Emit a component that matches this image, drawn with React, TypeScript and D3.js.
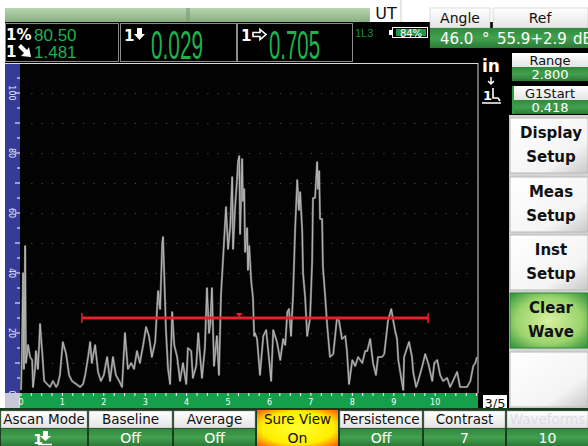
import * as d3 from 'd3';

// A-scan echo envelope: [position in screen divisions, amplitude %FSH]
const WAVEFORM: [number, number][] = [
  [0, 1], [0.02, 12], [0.05, 40], [0.07, 8], [0.1, 49], [0.12, 10], [0.17, 16], [0.22, 12],
  [0.27, 11], [0.29, 2], [0.34, 8], [0.36, 14], [0.41, 8], [0.46, 23], [0.51, 14], [0.56, 4],
  [0.63, 3], [0.7, 2], [0.77, 4], [0.85, 2], [0.89, 3], [0.94, 6], [1.01, 17], [1.09, 13],
  [1.16, 6], [1.23, 4], [1.33, 3], [1.43, 2], [1.5, 3], [1.55, 6], [1.62, 12], [1.67, 17],
  [1.71, 10], [1.79, 16], [1.86, 7], [1.93, 4], [2.0, 6], [2.08, 12], [2.15, 4], [2.22, 12],
  [2.29, 6], [2.37, 4], [2.44, 2], [2.51, 20], [2.58, 8], [2.66, 10], [2.73, 8], [2.8, 14],
  [2.87, 10], [2.95, 16], [3.02, 22], [3.09, 19], [3.16, 12], [3.24, 17], [3.31, 34], [3.36, 28],
  [3.41, 50], [3.43, 52], [3.45, 43], [3.5, 21], [3.55, 8], [3.6, 3], [3.65, 27], [3.7, 16],
  [3.77, 12], [3.84, 4], [3.91, 10], [3.99, 3], [4.03, 15], [4.11, 14], [4.15, 5], [4.23, 9],
  [4.28, 20], [4.32, 13], [4.37, 5], [4.44, 15], [4.49, 35], [4.54, 20], [4.57, 23], [4.61, 35],
  [4.66, 9], [4.73, 19], [4.78, 6], [4.83, 33], [4.88, 45], [4.95, 62], [5.0, 48], [5.05, 55],
  [5.1, 72], [5.12, 48], [5.17, 62], [5.22, 72], [5.24, 77], [5.27, 79], [5.29, 53], [5.34, 78],
  [5.36, 64], [5.39, 68], [5.41, 47], [5.46, 55], [5.48, 41], [5.51, 49], [5.56, 37], [5.6, 32],
  [5.63, 19], [5.65, 20], [5.7, 18], [5.77, 6], [5.85, 19], [5.92, 21], [5.97, 14], [6.04, 4],
  [6.09, 21], [6.18, 17], [6.26, 11], [6.33, 18], [6.38, 16], [6.43, 27], [6.47, 28], [6.52, 19],
  [6.57, 33], [6.62, 55], [6.67, 71], [6.71, 61], [6.74, 67], [6.79, 54], [6.81, 40], [6.86, 32],
  [6.91, 19], [6.98, 25], [7.03, 44], [7.05, 65], [7.1, 65], [7.15, 77], [7.17, 68], [7.2, 74],
  [7.22, 58], [7.27, 58], [7.29, 42], [7.34, 33], [7.39, 23], [7.46, 12], [7.54, 13], [7.63, 25],
  [7.68, 24], [7.75, 18], [7.83, 19], [7.87, 14], [7.92, 3], [8.0, 11], [8.07, 9], [8.14, 12],
  [8.24, 10], [8.31, 14], [8.36, 14], [8.43, 18], [8.5, 10], [8.57, 6], [8.62, 12], [8.72, 12],
  [8.77, 13], [8.82, 19], [8.86, 24], [8.94, 28], [8.99, 24], [9.03, 21], [9.08, 18], [9.11, 11],
  [9.18, 5], [9.23, 1], [9.25, 12], [9.32, 15], [9.37, 17], [9.44, 12], [9.47, 7], [9.54, 2],
  [9.59, 4], [9.69, 9], [9.76, 13], [9.83, 10], [9.93, 4], [9.98, 10], [10.05, 11], [10.12, 6],
  [10.19, 4], [10.29, 5], [10.36, 2], [10.43, 4], [10.53, 7], [10.6, 2], [10.68, 2], [10.77, 2],
  [10.85, 4], [10.92, 9], [10.97, 10], [11.01, 12],
];

const X_LABELS = [0, 1, 2, 3, 4, 5, 6, 7, 8, 9, 10];
const Y_LABELS = [0, 20, 40, 60, 80, 100];

const GATE_START = 1.47;
const GATE_END = 9.83;
const GATE_LEVEL = 25;
const GATE_MARK = 5.27;

const SOFTKEYS = [['Display', 'Setup'], ['Meas', 'Setup'], ['Inst', 'Setup'], ['Clear', 'Wave'], ['', '']];
const BOTTOM_LABELS = ['Ascan Mode', 'Baseline', 'Average', 'Sure View', 'Persistence', 'Contrast', 'Waveforms'];
const BOTTOM_VALUES = ['1', 'Off', 'Off', 'On', 'Off', '7', '10'];

const SANS = '"DejaVu Sans", Verdana, sans-serif';
const ARIAL = '"Liberation Sans", Arial, sans-serif';
const GREEN = '#1fb24b';

export default function App() {
  const x = d3.scaleLinear().domain([0, 11.01]).range([21, 477]);
  const y = d3.scaleLinear().domain([0, 100]).range([393, 93]);
  const line = d3.line<[number, number]>().x((d) => x(d[0])).y((d) => y(d[1]));
  const xMinor = d3.range(0, 11.01, 0.25);
  const yMinor = d3.range(5, 110, 5);
  const gridY = d3.range(10, 110, 10);
  const bx = [1, 89, 174, 257, 340, 424, 507];
  const bw = [86, 83, 81, 81, 82, 81, 81];
  const keyTop = [118, 177, 235, 293, 352];

  return (
    <svg width={588} height={446} style={{ position: 'absolute', left: 0, top: 0 }} fontFamily={SANS}>
      <defs>
        <linearGradient id="topStrip" x1="0" y1="0" x2="0" y2="1">
          <stop offset="0" stopColor="#b9d6b2" />
          <stop offset="1" stopColor="#88ae80" />
        </linearGradient>
        <linearGradient id="head" x1="0" y1="0" x2="0" y2="1">
          <stop offset="0" stopColor="#ffffff" />
          <stop offset="1" stopColor="#e4e4e4" />
        </linearGradient>
        <linearGradient id="greenRow" x1="0" y1="0" x2="0" y2="1">
          <stop offset="0" stopColor="#2f8a3c" />
          <stop offset="0.5" stopColor="#43a04f" />
          <stop offset="1" stopColor="#2a7a36" />
        </linearGradient>
        <linearGradient id="key" x1="0" y1="0" x2="1" y2="1">
          <stop offset="0" stopColor="#ffffff" />
          <stop offset="0.7" stopColor="#f4f4f4" />
          <stop offset="1" stopColor="#c8c8c8" />
        </linearGradient>
        <radialGradient id="clear" cx="0.5" cy="0.5" r="0.7">
          <stop offset="0" stopColor="#d8f0a0" />
          <stop offset="0.6" stopColor="#9bd46c" />
          <stop offset="1" stopColor="#2f8f3a" />
        </radialGradient>
        <radialGradient id="sure" cx="0.5" cy="0.5" r="0.75">
          <stop offset="0" stopColor="#ffff30" />
          <stop offset="0.6" stopColor="#ffee00" />
          <stop offset="1" stopColor="#ff3a10" />
        </radialGradient>
      </defs>

      <rect width={588} height={446} fill="#ffffff" />
      <rect x={5} y={22} width={583} height={390} fill="#000000" />

      {/* top strip */}
      <rect x={5} y={8} width={365} height={14} fill="url(#topStrip)" />
      <rect x={186} y={8} width={4} height={14} fill="#7f9a79" opacity={0.6} />
      <rect x={370} y={0} width={60} height={22} fill="#ffffff" />
      <line x1={401} y1={0} x2={401} y2={22} stroke="#cfcfcf" />
      <text x={386} y={19} textAnchor="middle" fontSize={16} fill="#111">UT</text>

      {/* readout boxes */}
      <rect x={5.5} y={23.5} width={113} height={38} fill="#000" stroke="#8a8a8a" />
      <rect x={120.5} y={23.5} width={116} height={38} fill="#000" stroke="#8a8a8a" />
      <rect x={237.5} y={23.5} width={115} height={38} fill="#000" stroke="#8a8a8a" />
      <text x={6} y={40} fontSize={15} fontWeight="bold" fill="#fff">1%</text>
      <text x={34} y={41} fontSize={17} fontFamily={ARIAL} fill={GREEN}>80.50</text>
      <text x={6} y={57} fontSize={15} fontWeight="bold" fill="#fff">1</text>
      <path d="M18,47 L21,44 L27,50 L29,47 L31,57 L21,56 L24,53 Z" fill="#fff" />
      <text x={34} y={58} fontSize={17} fontFamily={ARIAL} fill={GREEN}>1.481</text>

      <text x={124} y={41} fontSize={15} fontWeight="bold" fill="#fff">1</text>
      <path d="M137,28 h5 v6 h3 l-5.5,6 l-5.5,-6 h3 z" fill="#fff" />
      <text x={151} y={59} fontSize={41} fontFamily={ARIAL} fill={GREEN} textLength={52} lengthAdjust="spacingAndGlyphs">0.029</text>

      <text x={241} y={41} fontSize={15} fontWeight="bold" fill="#fff">1</text>
      <path d="M253,32.5 h7 v-3 l6,5 l-6,5 v-3 h-7 z" fill="none" stroke="#fff" strokeWidth={1.6} />
      <text x={269} y={59} fontSize={41} fontFamily={ARIAL} fill={GREEN} textLength={51} lengthAdjust="spacingAndGlyphs">0.705</text>

      <text x={355} y={37} fontSize={11} fontFamily={ARIAL} fill="#1c8f3c">1L3</text>
      <rect x={389} y={30} width={3} height={5} fill="#fff" />
      <rect x={392.5} y={27.5} width={35} height={10} fill="#000" stroke="#fff" />
      <rect x={396} y={29} width={30} height={7} fill="#1e9a46" />
      <text x={411} y={36.5} textAnchor="middle" fontSize={10} fill="#fff">84%</text>

      {/* angle / ref */}
      <rect x={430} y={8} width={60} height={20} fill="url(#head)" stroke="#bbb" strokeWidth={0.5} />
      <rect x={493} y={8} width={95} height={20} fill="url(#head)" stroke="#bbb" strokeWidth={0.5} />
      <text x={460} y={23} textAnchor="middle" fontSize={14} fill="#111">Angle</text>
      <text x={540} y={23} textAnchor="middle" fontSize={14} fill="#111">Ref</text>
      <rect x={430} y={28} width={158} height={20} fill="url(#greenRow)" />
      <text x={440} y={44} fontSize={15} fill="#fff">46.0</text>
      <text x={482} y={44} fontSize={15} fill="#fff">°</text>
      <text x={497} y={44} fontSize={15} fill="#fff">55.9+2.9</text>
      <text x={573} y={44} fontSize={15} fill="#fff">dB</text>

      {/* units & probe icon */}
      <text x={482} y={72} fontSize={17} fontWeight="bold" fill="#fff">in</text>
      <path d="M491,77 v6 M488,81 l3,3 l3,-3" stroke="#fff" strokeWidth={1.5} fill="none" />
      <text x={483} y={100} fontSize={13} fontWeight="bold" fill="#fff">1</text>
      <path d="M493,88 v10 h5 l2,3 M482,103 h19" stroke="#fff" strokeWidth={1.6} fill="none" />

      {/* range / gate start */}
      <rect x={512} y={53} width={76} height={14} fill="url(#head)" />
      <text x={550} y={65} textAnchor="middle" fontSize={13} fill="#111">Range</text>
      <rect x={512} y={67} width={76} height={14} fill="url(#greenRow)" />
      <text x={550} y={79} textAnchor="middle" fontSize={13} fill="#fff">2.800</text>
      <rect x={512} y={86} width={76} height={14} fill="url(#head)" />
      <text x={550} y={98} textAnchor="middle" fontSize={13} fill="#111">G1Start</text>
      <rect x={512} y={100} width={76} height={14} fill="url(#greenRow)" />
      <rect x={512} y={86} width={2} height={28} fill="#2aa040" />
      <text x={550} y={112} textAnchor="middle" fontSize={13} fill="#fff">0.418</text>

      {/* softkeys */}
      <rect x={509} y={115} width={79} height={296} fill="#d4d4d4" />
      {SOFTKEYS.map((k, i) => (
        <g key={i}>
          <rect x={510} y={keyTop[i]} width={78} height={55} fill={i === 3 ? 'url(#clear)' : 'url(#key)'} stroke={i === 3 ? '#2a8a34' : '#b8b8b8'} />
          <text x={551} y={keyTop[i] + 20} textAnchor="middle" fontSize={15} fontWeight="bold" fill="#111">{k[0]}</text>
          <text x={551} y={keyTop[i] + 44} textAnchor="middle" fontSize={15} fontWeight="bold" fill="#111">{k[1]}</text>
        </g>
      ))}
      <rect x={483} y={395} width={24} height={15} fill="#fff" />
      <text x={495} y={408} textAnchor="middle" fontSize={13} fill="#111">3/5</text>

      {/* plot area */}
      <rect x={20} y={64} width={458} height={329} fill="#030303" />
      <line x1={5} y1={63.5} x2={478} y2={63.5} stroke="#d8d8d8" />
      <line x1={478} y1={63} x2={478} y2={393} stroke="#d8d8d8" />
      <rect x={5} y={64} width={15} height={329} fill="#343c98" />
      {yMinor.map((v) => (
        <line key={v} x1={v % 10 === 0 ? 15 : 17} x2={20} y1={y(v)} y2={y(v)} stroke="#ffffff" strokeWidth={1} />
      ))}
      {Y_LABELS.map((v) => (
        <text key={v} transform={`translate(9,${y(v)}) rotate(90)`} textAnchor="middle" fontSize={8} fill="#e8e8ff">{v}</text>
      ))}
      {gridY.map((gv) =>
        xMinor.filter((m) => m > 0).map((m) => (
          <rect key={`${gv}-${m}`} x={x(m)} y={y(gv)} width={1} height={1} fill="#555" />
        ))
      )}

      {/* x axis strip */}
      <rect x={5} y={393} width={15} height={15} fill="#c8c8da" />
      <rect x={20} y={393} width={458} height={15} fill="#14a04a" />
      {xMinor.map((m) => (
        <line key={m} x1={x(m)} x2={x(m)} y1={393} y2={396} stroke="#ffffff" />
      ))}
      {X_LABELS.map((v) => (
        <text key={v} x={x(v)} y={405} textAnchor="middle" fontSize={8} fill="#ffffff">{v}</text>
      ))}

      {/* waveform */}
      <path d={line(WAVEFORM) ?? ''} fill="none" stroke="#6c6c6c" strokeWidth={2.2} strokeLinejoin="round" />
      <path d={line(WAVEFORM) ?? ''} fill="none" stroke="#bdbdbd" strokeWidth={0.9} strokeLinejoin="round" />

      {/* gate */}
      <line x1={x(GATE_START)} x2={x(GATE_END)} y1={y(GATE_LEVEL)} y2={y(GATE_LEVEL)} stroke="#e8202a" strokeWidth={3} />
      <line x1={x(GATE_START)} x2={x(GATE_START)} y1={y(GATE_LEVEL) - 5} y2={y(GATE_LEVEL) + 5} stroke="#e8202a" strokeWidth={1.5} />
      <line x1={x(GATE_END)} x2={x(GATE_END)} y1={y(GATE_LEVEL) - 5} y2={y(GATE_LEVEL) + 5} stroke="#e8202a" strokeWidth={1.5} />
      <path d={`M${x(GATE_MARK) - 3.5},${y(GATE_LEVEL) - 5} h7 l-3.5,4 z`} fill="#e8202a" />

      {/* bottom parameter bar */}
      <rect x={0} y={408} width={588} height={38} fill="#1a3d20" />
      {BOTTOM_LABELS.map((lab, i) => {
        const sure = i === 3;
        const cx = bx[i] + bw[i] / 2;
        return (
          <g key={lab}>
            {sure ? (
              <rect x={bx[i]} y={410} width={bw[i]} height={36} fill="url(#sure)" />
            ) : (
              <>
                <rect x={bx[i]} y={411} width={bw[i]} height={17} fill="url(#head)" stroke="#9a9a9a" strokeWidth={0.5} />
                <rect x={bx[i]} y={429} width={bw[i]} height={17} fill="url(#greenRow)" />
              </>
            )}
            <text x={cx} y={424} textAnchor="middle" fontSize={13.5} fill={i === 6 ? '#dcdcec' : '#111'}>{lab}</text>
            {i === 0 ? (
              <g>
                <text x={cx - 6} y={444} textAnchor="middle" fontSize={14} fontWeight="bold" fill="#fff">{BOTTOM_VALUES[i]}</text>
                <path d={`M${cx - 1},431 h5 v5 h3 l-5.5,5 l-5.5,-5 h3 z`} fill="#fff" />
                <line x1={cx - 6} x2={cx + 8} y1={444.5} y2={444.5} stroke="#fff" strokeWidth={1.5} />
              </g>
            ) : (
              <text x={cx} y={443} textAnchor="middle" fontSize={14} fill={sure ? '#111' : '#fff'}>{BOTTOM_VALUES[i]}</text>
            )}
          </g>
        );
      })}
    </svg>
  );
}
